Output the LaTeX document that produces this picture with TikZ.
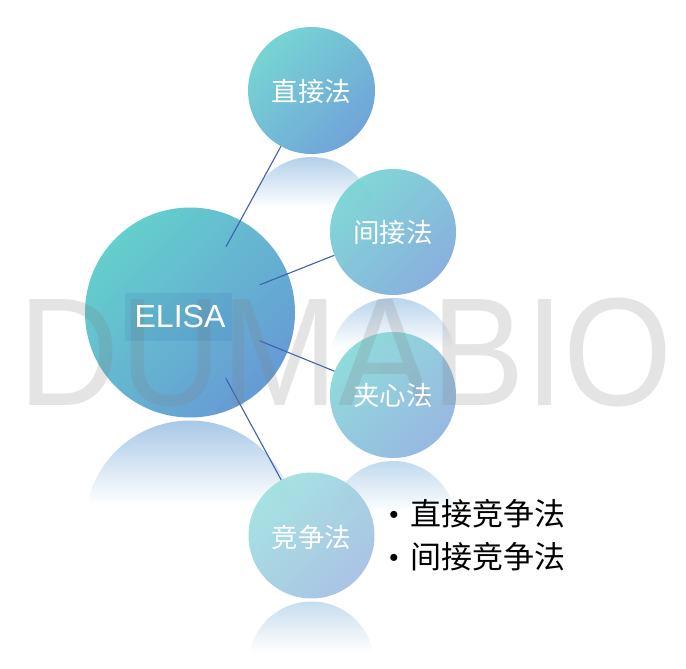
\documentclass[tikz,border=0pt]{standalone}
\usepackage{fontspec}
\setmainfont{Liberation Sans}
\newfontfamily\cjk{Noto Sans CJK SC}
\usetikzlibrary{calc}
\definecolor{linecol}{HTML}{3F5FB0}
\definecolor{eA}{HTML}{58CBC8}\definecolor{eB}{HTML}{5A93D2}
\definecolor{aA}{HTML}{6CD1D0}\definecolor{aB}{HTML}{659DD6}
\definecolor{bA}{HTML}{78D4D3}\definecolor{bB}{HTML}{80AADB}
\definecolor{cA}{HTML}{88D8D8}\definecolor{cB}{HTML}{90B3E0}
\definecolor{dA}{HTML}{9FE0E0}\definecolor{dB}{HTML}{A5BFE3}
\definecolor{rE}{HTML}{A8C8E6}\definecolor{rA}{HTML}{B3D0EA}
\definecolor{rB}{HTML}{BAD5EC}\definecolor{rC}{HTML}{C0D9EE}\definecolor{rD}{HTML}{C6DDEF}
\newcommand\myrefl[4]{%
  \pgfmathsetmacro\rtop{#2+#3+3}%
  \pgfmathsetmacro\rcy{\rtop+#3}%
  \pgfmathsetmacro\rbot{\rtop+0.8*#3}%
  \begin{scope}
    \clip (#1,\rcy) circle (#3);
    \shade[top color=#4, bottom color=white] (#1-#3,\rtop) rectangle (#1+#3,\rbot);
  \end{scope}}
\tikzset{
  ball/.style n args={3}{circle, draw=none, inner sep=0pt, minimum size=#1pt,
    top color=#2, bottom color=#3, shading angle=45, opacity=0.93},
  lbl/.style={text=white, font=\cjk\fontsize{26.5}{30}\selectfont, inner sep=0pt},
  conn/.style={draw=linecol, line width=1.1pt},
  item/.style={text=black, font=\cjk\fontsize{31}{36}\selectfont, inner sep=0pt, anchor=west},
  bul/.style={font=\fontsize{26}{30}\selectfont, inner sep=0pt},
}
\begin{document}
\begin{tikzpicture}[x=1pt,y=-1pt]
\useasboundingbox (0,0) rectangle (686,669);
% reflections
\myrefl{190}{312.5}{105}{rE}
\myrefl{311.5}{90.5}{63.5}{rA}
\myrefl{393}{232}{63}{rB}
\myrefl{393}{395}{63}{rC}
\myrefl{311.5}{535.5}{63}{rD}
% circles
\node[ball={210}{eA}{eB}] (E) at (190,312.5) {};
\node[ball={127}{aA}{aB}] (c1) at (311.5,90.5) {};
\node[ball={126}{bA}{bB}] (c2) at (393,232) {};
\node[ball={126}{cA}{cB}] (c3) at (393,395) {};
\node[ball={126}{dA}{dB}] (c4) at (311.5,535.5) {};
% connectors
\draw[conn, shorten <=75pt] (E.center) -- (c1);
\draw[conn, shorten <=75pt] (E.center) -- (c2);
\draw[conn, shorten <=75pt] (E.center) -- (c3);
\draw[conn, shorten <=75pt] (E.center) -- (c4);
% watermark
\node[anchor=base, inner sep=0pt, text=black!50, text opacity=0.21,
  font=\fontsize{154}{160}\selectfont] (wm) at (346,405) {\scalebox{0.91}[1]{DUMABIO}};
% ELISA label box
\fill[fill=black!50!blue, fill opacity=0.06] (125,293) rectangle (232,341);
\node[text=white, font=\fontsize{32}{36}\selectfont, inner sep=0pt] (tE) at (180,316) {ELISA};
\node[lbl] (t1) at (311.5,91) {直接法};
\node[lbl] (t2) at (393,232) {间接法};
\node[lbl] (t3) at (393,395) {夹心法};
\node[lbl] (t4) at (311.5,537) {竞争法};
% bullet list
\node[bul] (bu1) at (394,517) {•};
\node[bul] (bu2) at (394,560) {•};
\node[item] (i1) at (410,514) {直接竞争法};
\node[item] (i2) at (410,557) {间接竞争法};
\end{tikzpicture}
\end{document}
